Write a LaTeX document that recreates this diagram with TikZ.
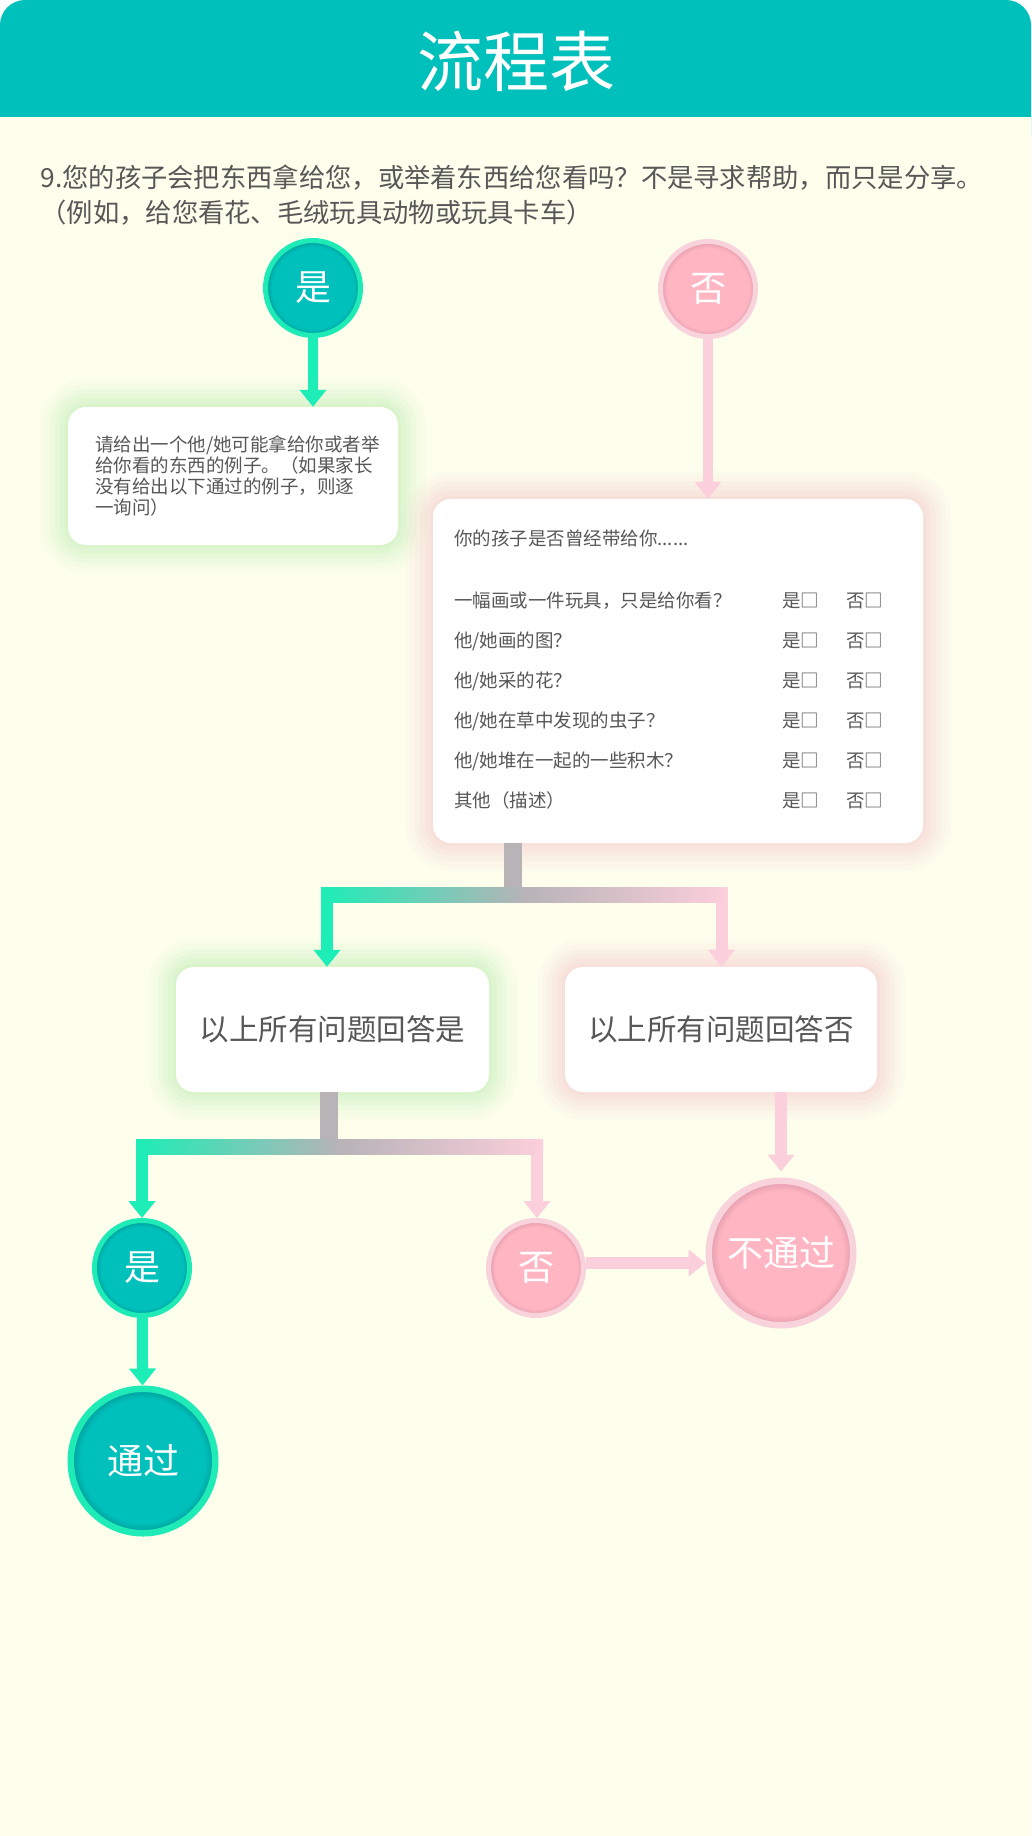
\documentclass[tikz,border=0pt]{standalone}
\usepackage{fontspec}
\setmainfont{Noto Sans CJK SC}
\usetikzlibrary{arrows.meta,positioning}
\definecolor{headteal}{HTML}{00C0BB}
\definecolor{tealdark}{HTML}{00A6A2}
\definecolor{ringgreen}{HTML}{1FEBB6}
\definecolor{arrowgreen}{HTML}{1DEDB6}
\definecolor{ballpink}{HTML}{FFB6C2}
\definecolor{pinkdark}{HTML}{E9A2B2}
\definecolor{ringpink}{HTML}{F9D3DC}
\definecolor{arrowpink}{HTML}{FCCFDC}
\definecolor{stemgray}{HTML}{B7B3B7}
\definecolor{cream}{HTML}{FDFEEC}
\definecolor{txtgray}{HTML}{575757}
\definecolor{glowgreen}{HTML}{B2ECA6}
\definecolor{glowpink}{HTML}{F5BCC8}
\pgfdeclareradialshading{tealball}{\pgfpoint{0bp}{0bp}}{color(0bp)=(headteal); color(21.5bp)=(headteal); color(24bp)=(tealdark); color(50bp)=(tealdark)}
\pgfdeclareradialshading{pinkball}{\pgfpoint{0bp}{0bp}}{color(0bp)=(ballpink); color(21.5bp)=(ballpink); color(24bp)=(pinkdark); color(50bp)=(pinkdark)}
\begin{document}
\begin{tikzpicture}[x=1pt, y=-1pt,
    every node/.style={text=txtgray},
    yesarrow/.style={draw=arrowgreen, line width=10pt, -{Triangle[width=26pt,length=17pt]}},
    noarrow/.style={draw=arrowpink, line width=10pt, -{Triangle[width=26pt,length=17pt]}},
    stem/.style={draw=stemgray, line width=18pt},
    card/.style={rectangle, fill=white, rounded corners=18pt, inner sep=0pt},
    glow/.style={preaction={draw=#1, line width=56pt, draw opacity=.05},
      preaction={draw=#1, line width=46pt, draw opacity=.06},
      preaction={draw=#1, line width=36pt, draw opacity=.08},
      preaction={draw=#1, line width=26pt, draw opacity=.1},
      preaction={draw=#1, line width=16pt, draw opacity=.12},
      preaction={draw=#1, line width=6pt, draw opacity=.14}},
    ball/.style={circle, shade, text=white, inner sep=0pt, font=\fontsize{36}{40}\selectfont},
    yesball/.style={ball, shading=tealball, draw=ringgreen, line width=5pt, minimum size=95pt},
    noball/.style={ball, shading=pinkball, draw=ringpink, line width=5pt, minimum size=95pt},
    boxtext/.style={align=left, inner sep=0pt, font=\fontsize{18.5}{21}\selectfont}]
  \useasboundingbox (0,0) rectangle (1031,1836);
  \fill[white] (0,0) rectangle (1031,1836);
  \fill[headteal, rounded corners=25pt] (0,0) rectangle (1031,160);
  \fill[cream] (0,117) rectangle (1031,1836);
  \node[text=white, font=\fontsize{66}{70}\selectfont] (title) at (516,61) {流程表};

  \node[anchor=west, font=\fontsize{26.3}{30}\selectfont] (q1) at (37,178)
    {9.您的孩子会把东西拿给您，或举着东西给您看吗？不是寻求帮助，而只是分享。};
  \node[anchor=west, font=\fontsize{26.3}{30}\selectfont] (q2) at (37,213)
    {（例如，给您看花、毛绒玩具动物或玩具卡车）};

  % first answer
  \node[yesball] (yes1) at (313,288) {是};
  \node[noball] (no1) at (708,289) {否};
  \node[card, glow=glowgreen, minimum width=330pt, minimum height=138pt] (ybox) at (233,476) {};
  \node[boxtext, right=27pt of ybox.west] (ytext)
    {请给出一个他/她可能拿给你或者举\\给你看的东西的例子。（如果家长\\没有给出以下通过的例子，则逐\\一询问）};
  \node[card, glow=glowpink, minimum width=490pt, minimum height=344pt] (qbox) at (678,671) {};
  \node[anchor=west, inner sep=0pt, font=\fontsize{18.5}{21}\selectfont] (qhead) at (454,538)
    {你的孩子是否曾经带给你......};
  \matrix[column sep={328pt,between origins}, row sep={40pt,between origins},
    nodes={anchor=base west, inner sep=0pt, font=\fontsize{18.5}{21}\selectfont},
    ampersand replacement=\&, matrix anchor=r1.base west] (checks) at (454,607)
  {
    \node(r1) {一幅画或一件玩具，只是给你看？}; \& \node(c1) {是□\hspace{27pt}否□}; \\
    \node(r2) {他/她画的图？}; \& \node(c2) {是□\hspace{27pt}否□}; \\
    \node(r3) {他/她采的花？}; \& \node(c3) {是□\hspace{27pt}否□}; \\
    \node(r4) {他/她在草中发现的虫子？}; \& \node(c4) {是□\hspace{27pt}否□}; \\
    \node(r5) {他/她堆在一起的一些积木？}; \& \node(c5) {是□\hspace{27pt}否□}; \\
    \node(r6) {其他（描述）}; \& \node(c6) {是□\hspace{27pt}否□}; \\
  };
  \draw[yesarrow] (yes1) -- (yes1 |- ybox.north);
  \draw[noarrow] (no1) -- (no1 |- qbox.north);

  % all answers
  \node[card, glow=glowgreen, minimum width=313pt, minimum height=125pt,
    font=\fontsize{29.5}{34}\selectfont] (allyes) at (332.5,1029.5) {以上所有问题回答是};
  \node[card, glow=glowpink, minimum width=312pt, minimum height=125pt,
    font=\fontsize{29.5}{34}\selectfont] (allno) at (721,1029.5) {以上所有问题回答否};
  \coordinate (split1) at (513,894.5);
  \coordinate (left1) at (327,894.5);
  \coordinate (right1) at (721.5,894.5);
  \draw[stem] (split1 |- qbox.south) -- (split1);
  \draw[yesarrow, line width=12pt] (left1) -- (left1 |- allyes.north);
  \draw[noarrow, line width=12pt] (right1) -- (right1 |- allno.north);
  \shade[left color=arrowgreen, right color=arrowpink, middle color=stemgray]
    ([xshift=-6pt, yshift=7.5pt]left1) rectangle ([xshift=6pt, yshift=-7.5pt]right1);

  % result
  \node[yesball] (yes2) at (142,1268) {是};
  \node[noball] (no2) at (536,1268) {否};
  \node[yesball, line width=6.5pt, minimum size=144.5pt] (pass) at (143,1461) {通过};
  \node[noball, line width=6.5pt, minimum size=144.5pt] (fail) at (781,1253) {不通过};
  \coordinate (split2) at (329,1146.5);
  \coordinate (left2) at (142,1146.5);
  \coordinate (right2) at (537,1146.5);
  \draw[stem] (split2 |- allyes.south) -- (split2);
  \draw[yesarrow, line width=12pt] (left2) -- (left2 |- yes2.north);
  \draw[noarrow, line width=12pt] (right2) -- (right2 |- no2.north);
  \shade[left color=arrowgreen, right color=arrowpink, middle color=stemgray]
    ([xshift=-6pt, yshift=7.5pt]left2) rectangle ([xshift=6pt, yshift=-7.5pt]right2);
  \draw[noarrow, line width=12pt, shorten >=6pt] (fail.north |- allno.south) -- (fail.north);
  \draw[yesarrow, line width=11pt] (yes2) -- (pass);
  \draw[noarrow, line width=12pt] ([yshift=5pt]no2.east) -- ([yshift=5pt]no2.east -| fail.west);
\end{tikzpicture}
\end{document}
